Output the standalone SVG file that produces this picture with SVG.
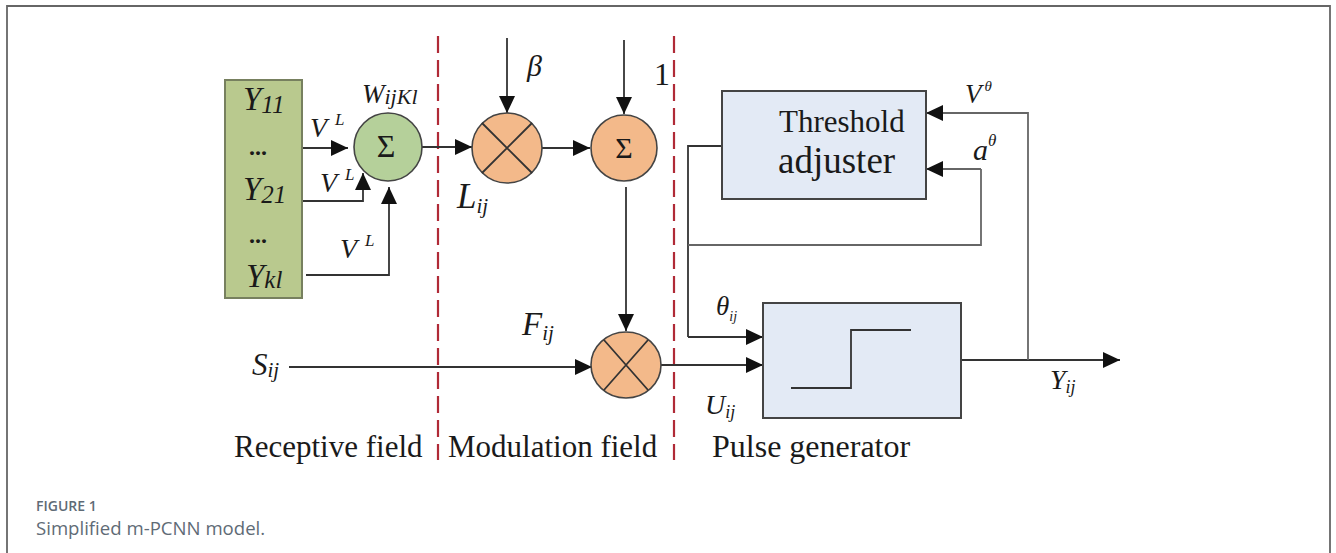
<svg xmlns="http://www.w3.org/2000/svg" width="1336" height="553" viewBox="0 0 1336 553">
<style>
.t{font-family:"Liberation Serif",serif;fill:#1a1a1a}
.i{font-style:italic}
.l{fill:none;stroke:#333;stroke-width:1.8}
.g{fill:none;stroke:#666;stroke-width:1.8}
.d{fill:none;stroke:#b02a37;stroke-width:2.2;stroke-dasharray:17 7}
.box{fill:#e3eaf5;stroke:#444;stroke-width:2}
.o{fill:#f3b98a;stroke:#444;stroke-width:1.6}
.c{font-family:"Open Sans",sans-serif;fill:#5f6b76}
</style>
<defs>
<marker id="a" markerUnits="userSpaceOnUse" markerWidth="18" markerHeight="16" refX="17" refY="8" orient="auto"><path d="M0 0L17 8L0 16z" fill="#111"/></marker>
</defs>
<path d="M7 553V6H1330V553" fill="#fff" stroke="#666" stroke-width="1.8"/>
<g id="connectors">
<path class="d" d="M438 36V460"/>
<path class="d" d="M674 36V460"/>
<path class="l" marker-end="url(#a)" d="M298 148H348"/>
<path class="l" marker-end="url(#a)" d="M302 201H363V173"/>
<path class="l" marker-end="url(#a)" d="M306 275H389V187"/>
<path class="l" marker-end="url(#a)" d="M422 147H472"/>
<path class="l" marker-end="url(#a)" d="M507 38V113"/>
<path class="l" marker-end="url(#a)" d="M542 148H590"/>
<path class="l" marker-end="url(#a)" d="M624 40V114"/>
<path class="l" marker-end="url(#a)" d="M626 187V331"/>
<path class="l" stroke-width="2.4" marker-end="url(#a)" d="M289 367H592"/>
<path class="l" d="M722 146H688V337" />
<path class="l" marker-end="url(#a)" d="M688 337H763"/>
<path class="g" d="M688 245H981V169"/>
<path class="g" marker-end="url(#a)" d="M981 169H926"/>
<path class="l" marker-end="url(#a)" d="M661 365H763"/>
<path class="l" marker-end="url(#a)" d="M961 360H1120"/>
<path class="g" marker-end="url(#a)" d="M1028 360V113H926"/>
</g>
<g id="inputs">
<rect x="225" y="80" width="77" height="218" fill="#b9c98e" stroke="#77805f" stroke-width="2"/>
<text class="t i" x="243" y="110" font-size="33">Y<tspan font-size="25" dy="3">11</tspan></text>
<text class="t" x="249" y="155" font-size="24" font-weight="bold">...</text>
<text class="t i" x="243" y="200" font-size="33">Y<tspan font-size="25" dy="3">21</tspan></text>
<text class="t" x="249" y="243" font-size="24" font-weight="bold">...</text>
<text class="t i" x="246" y="287" font-size="33">Y<tspan font-size="25" dy="1">kl</tspan></text>
</g>
<g id="sum-green">
<circle cx="388" cy="147" r="34" fill="#b5d09a" stroke="#444" stroke-width="1.6"/>
<text class="t" x="386" y="157" font-size="32" text-anchor="middle">Σ</text>
<text class="t i" x="362" y="103" font-size="27">W<tspan font-size="22" dy="1">ijKl</tspan></text>
</g>
<g id="mult-top">
<circle class="o" cx="507" cy="148" r="35"/>
<path class="l" d="M482 123L532 173M532 123L482 173"/>
</g>
<g id="sum-orange">
<circle class="o" cx="624" cy="148" r="33"/>
<text class="t" x="624" y="158" font-size="30" text-anchor="middle">Σ</text>
</g>
<g id="mult-bottom">
<ellipse class="o" cx="626" cy="365" rx="35" ry="33"/>
<path class="l" d="M604 340L648 390M648 340L604 390"/>
</g>
<g id="threshold">
<rect class="box" x="722" y="91" width="204" height="108"/>
<text class="t" x="779" y="132" font-size="31">Threshold</text>
<text class="t" x="778" y="173" font-size="37">adjuster</text>
</g>
<g id="pulse">
<rect class="box" x="763" y="303" width="198" height="115"/>
<path class="l" stroke-width="2.2" d="M791 388H851V330H911"/>
</g>
<g id="labels">
<text class="t i" x="310" y="137" font-size="28">V<tspan font-size="17" dx="8" dy="-12">L</tspan></text>
<text class="t i" x="320" y="192" font-size="28">V<tspan font-size="17" dx="8" dy="-12">L</tspan></text>
<text class="t i" x="340" y="258" font-size="28">V<tspan font-size="17" dx="8" dy="-12">L</tspan></text>
<text class="t i" x="457" y="208" font-size="35">L<tspan font-size="21" dy="5">ij</tspan></text>
<text class="t i" x="527" y="76" font-size="30">β</text>
<text class="t" x="654" y="85" font-size="32">1</text>
<text class="t i" x="522" y="335" font-size="33">F<tspan font-size="21" dy="5">ij</tspan></text>
<text class="t i" x="252" y="375" font-size="31">S<tspan font-size="21" dy="2">ij</tspan></text>
<text class="t i" x="965" y="103" font-size="27">V<tspan font-size="15" dx="3" dy="-12">θ</tspan></text>
<text class="t i" x="973" y="160" font-size="30">a<tspan font-size="17" dy="-14">θ</tspan></text>
<text class="t i" x="716" y="315" font-size="27">θ<tspan font-size="14" dy="6">ij</tspan></text>
<text class="t i" x="705" y="414" font-size="28">U<tspan font-size="18" dy="4">ij</tspan></text>
<text class="t i" x="1050" y="389" font-size="28">Y<tspan font-size="18" dy="4">ij</tspan></text>
<text class="t" x="234" y="457" font-size="31">Receptive field</text>
<text class="t" x="448" y="457" font-size="31">Modulation field</text>
<text class="t" x="712" y="457" font-size="32">Pulse generator</text>
</g>
<g id="caption">
<text class="c" x="36" y="511" font-size="14" font-weight="600">FIGURE 1</text>
<text class="c" x="36" y="535" font-size="18.6">Simplified m-PCNN model.</text>
</g>
</svg>
